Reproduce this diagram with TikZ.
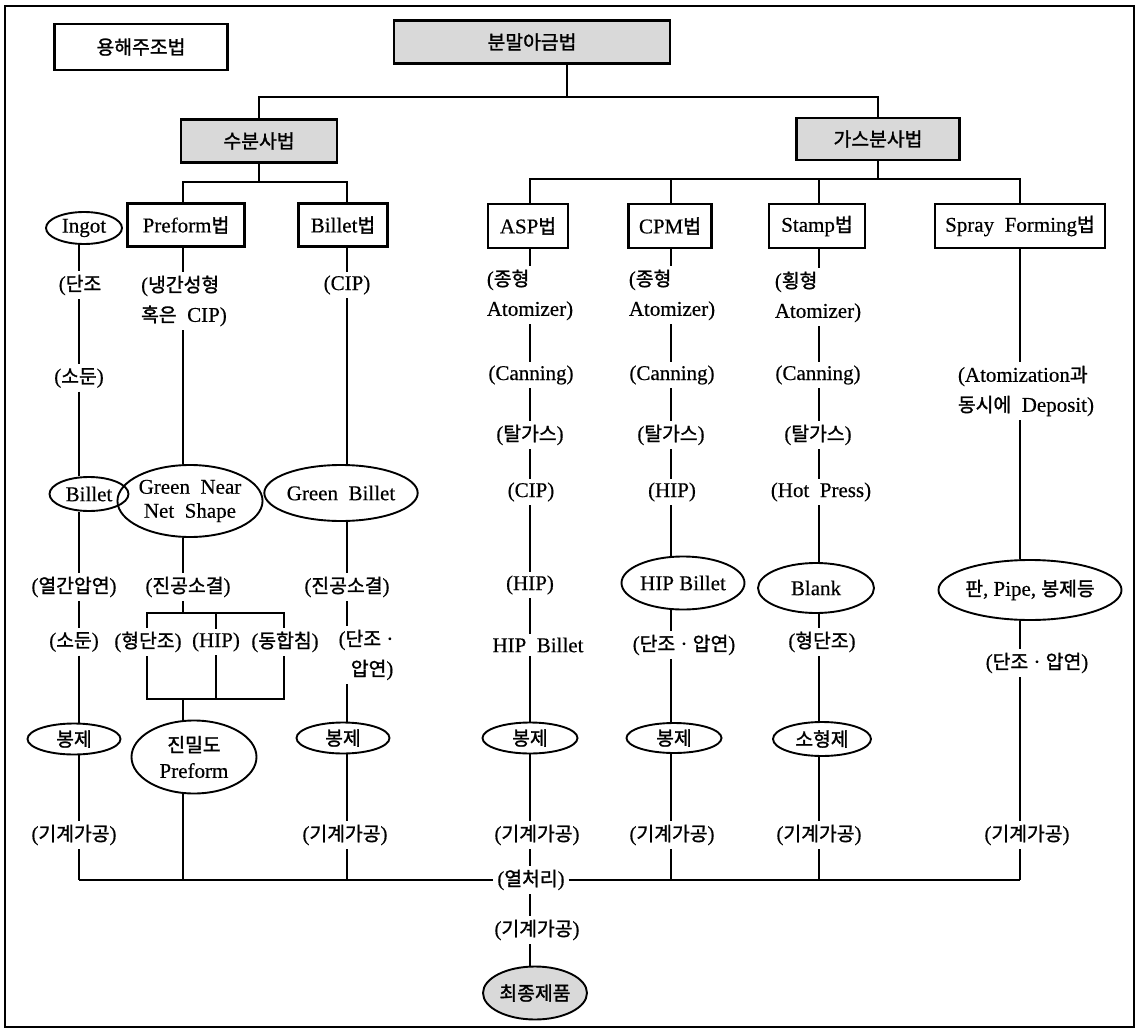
\documentclass[tikz,border=0pt]{standalone}
\usepackage{fontspec}
\setmainfont[FakeBold=0.4]{Liberation Serif}
\newfontfamily\krfont[Scale=0.92,FakeBold=1.4]{Noto Sans CJK KR}
\newcommand{\kor}[1]{{\krfont #1}}
\usetikzlibrary{shapes.geometric}

\begin{document}
\begin{tikzpicture}[x=1pt,y=-1pt,line width=1.8pt,
    font=\fontsize{21}{30}\selectfont,
    box/.style={draw,line width=2.4pt,inner sep=0pt,minimum height=43pt},
    gbox/.style={box,fill=black!15},
    oval/.style={draw,ellipse,line width=1.9pt,inner sep=0pt},
    goval/.style={oval,fill=black!15},
    lbl/.style={inner sep=3pt,align=center}]
\useasboundingbox (0,0) rectangle (1141,1033);
\draw[line width=2.2pt] (5,6) rectangle (1134,1027);
% column lines
\foreach \n/\x in {C1/79,C2/183,C3/347,C4/530,C5/671,C6/819,C7/1020}
    \coordinate (\n) at (\x,0);
\foreach \n/\x in {J1/79,J2/183,J3/347,J5/671,J6/819,J7/1020}
    \coordinate (\n) at (\x,880);

% heads
\node[box,minimum width=173pt,minimum height=46pt] (yong) at (141,47) {\kor{용해주조법}};
\node[gbox,minimum width=276pt] (bun) at (532,42) {\kor{분말아금법}};
\node[gbox,minimum width=156pt] (su) at (259,141) {\kor{수분사법}};
\node[gbox,minimum width=163pt,minimum height=42pt] (gas) at (878,139) {\kor{가스분사법}};
\coordinate (bj) at (567,97);
\coordinate (sj) at (259,182);
\coordinate (gj) at (878,179);
\draw (bj |- bun.south) -- (bj);
\draw (su) |- (bj) -| (gas);

% methods
\node[oval,minimum width=76pt,minimum height=32pt] (ingot) at (84,228) {Ingot};
\node[box,minimum width=117pt] (pre) at (186,225) {Preform\kor{법}};
\node[box,minimum width=89pt] (bil) at (343,225) {Billet\kor{법}};
\node[box,minimum width=80pt,minimum height=44pt] (asp) at (528,226) {ASP\kor{법}};
\node[box,minimum width=83pt,minimum height=44pt] (cpm) at (670,226) {CPM\kor{법}};
\node[box,minimum width=96pt,minimum height=44pt] (stp) at (817,226) {Stamp\kor{법}};
\node[box,minimum width=170pt,minimum height=44pt] (spr) at (1020,226) {Spray~~Forming\kor{법}};
\draw (su) -- (sj);
\draw (C2 |- pre.north) |- (sj) -| (C3 |- bil.north);
\draw (gas) -- (gj);
\draw (C4 |- asp.north) |- (gj) -| (C7 |- spr.north);
\draw (C5 |- gj) -- (C5 |- cpm.north);
\draw (C6 |- gj) -- (C6 |- stp.north);

% Ingot
\node[lbl] (i1) at (80,285) {(\kor{단조}};
\node[lbl] (i2) at (79,378) {(\kor{소둔})};
\node[oval,minimum width=79pt,minimum height=34pt] (billet) at (89,494) {Billet};
\node[lbl] (i3) at (74,587) {(\kor{열간압연})};
\node[lbl] (i4) at (74,642) {(\kor{소둔})};
\node[oval,minimum width=93pt,minimum height=31pt] (bongL) at (74,739) {\kor{봉제}};
\node[lbl] (i5) at (74,835) {(\kor{기계가공})};
\foreach \a/\b in {ingot/i1,i1/i2,i2/billet,billet/i3,i3/i4,i4/bongL,bongL/i5}
    \draw (C1 |- \a.south) -- (C1 |- \b.north);
\draw (C1 |- i5.south) -- (J1);

% Preform
\node[lbl,align=left] (p1) at (184,301) {(\kor{냉간성형}\\\kor{혹은}~~CIP)};
\node[oval,minimum width=125pt,minimum height=72pt,align=center] (gnns) at (190,501)
    {Green~~Near\\[-6pt]Net~~Shape};
\node[lbl] (p2) at (188,587) {(\kor{진공소결})};
\node[lbl] (hy) at (148,642) {(\kor{형단조})};
\node[lbl] (hp) at (216,642) {(HIP)};
\node[lbl] (dh) at (285,642) {(\kor{동합침})};
\node[oval,minimum width=125pt,minimum height=73pt,align=center] (jin) at (194,757)
    {\kor{진밀도}\\[-4pt]Preform};
\coordinate (u1) at (147,613); \coordinate (u2) at (216,613); \coordinate (u3) at (284,613);
\coordinate (w1) at (147,699); \coordinate (w2) at (216,699); \coordinate (w3) at (284,699);
\foreach \a/\b in {pre/p1,p1/gnns,gnns/p2}
    \draw (C2 |- \a.south) -- (C2 |- \b.north);
\draw (C2 |- p2.south) -- (C2 |- u1);
\draw (u1 |- hy.north) -- (u1) -- (u3) -- (u3 |- dh.north);
\draw (u2) -- (u2 |- hp.north);
\draw (w1 |- hy.south) -- (w1) -- (w3) -- (w3 |- dh.south);
\draw (w2 |- hp.south) -- (w2);
\draw (C2 |- w1) -- (C2 |- jin.north);
\draw (C2 |- jin.south) -- (J2);

% Billet
\node[lbl] (b1) at (347,285) {(CIP)};
\node[oval,minimum width=138pt,minimum height=56pt] (gbil) at (341,493) {Green~~Billet};
\node[lbl] (b2) at (347,587) {(\kor{진공소결})};
\node[lbl,align=right] (b3) at (366,655) {(\kor{단조}~·\\\kor{압연})};
\node[oval,minimum width=93pt,minimum height=31pt] (bongB) at (343,738) {\kor{봉제}};
\node[lbl] (b4) at (345,835) {(\kor{기계가공})};
\foreach \a/\b in {bil/b1,b1/gbil,gbil/b2,b2/b3,b3/bongB,bongB/b4}
    \draw (C3 |- \a.south) -- (C3 |- \b.north);
\draw (C3 |- b4.south) -- (J3);

% ASP
\node[lbl,align=left] (a1) at (530,295) {(\kor{종형}\\Atomizer)};
\node[lbl] (a2) at (531,375) {(Canning)};
\node[lbl] (a3) at (530,435) {(\kor{탈가스})};
\node[lbl] (a4) at (531,492) {(CIP)};
\node[lbl] (a5) at (530,585) {(HIP)};
\node[lbl] (a6) at (538,645) {HIP~~Billet};
\node[oval,minimum width=95pt,minimum height=31pt] (bongA) at (530,738) {\kor{봉제}};
\node[lbl] (a7) at (537,835) {(\kor{기계가공})};
\node[lbl] (heat) at (531,880) {(\kor{열처리})};
\node[lbl] (a8) at (537,930) {(\kor{기계가공})};
\node[goval,minimum width=104pt,minimum height=53pt] (fin) at (535,993) {\kor{최종제품}};
\foreach \a/\b in {asp/a1,a1/a2,a2/a3,a3/a4,a4/a5,a5/a6,a6/bongA,bongA/a7,a7/heat,heat/a8,a8/fin}
    \draw (C4 |- \a.south) -- (C4 |- \b.north);
\draw (J1) -- (heat);
\draw (heat) -- (J7);

% CPM
\node[lbl,align=left] (c1) at (672,295) {(\kor{종형}\\Atomizer)};
\node[lbl] (c2) at (672,375) {(Canning)};
\node[lbl] (c3) at (671,435) {(\kor{탈가스})};
\node[lbl] (c4) at (672,492) {(HIP)};
\node[oval,minimum width=123pt,minimum height=53pt] (hipb) at (683,583) {HIP Billet};
\node[lbl] (c5) at (684,645) {(\kor{단조}~·~\kor{압연})};
\node[oval,minimum width=95pt,minimum height=30pt] (bongC) at (674,738) {\kor{봉제}};
\node[lbl] (c6) at (672,835) {(\kor{기계가공})};
\foreach \a/\b in {cpm/c1,c1/c2,c2/c3,c3/c4,c4/hipb,hipb/c5,c5/bongC,bongC/c6}
    \draw (C5 |- \a.south) -- (C5 |- \b.north);
\draw (C5 |- c6.south) -- (J5);

% Stamp
\node[lbl,align=left] (s1) at (818,297) {(\kor{횡형}\\Atomizer)};
\node[lbl] (s2) at (818,375) {(Canning)};
\node[lbl] (s3) at (818,435) {(\kor{탈가스})};
\node[lbl] (s4) at (821,492) {(Hot~~Press)};
\node[oval,minimum width=116pt,minimum height=50pt] (blank) at (816,588) {Blank};
\node[lbl] (s5) at (822,642) {(\kor{형단조})};
\node[oval,minimum width=98pt,minimum height=34pt] (soh) at (822,739) {\kor{소형제}};
\node[lbl] (s6) at (819,835) {(\kor{기계가공})};
\foreach \a/\b in {stp/s1,s1/s2,s2/s3,s3/s4,s4/blank,blank/s5,s5/soh,soh/s6}
    \draw (C6 |- \a.south) -- (C6 |- \b.north);
\draw (C6 |- s6.south) -- (J6);

% Spray Forming
\node[lbl,align=left] (r1) at (1026,391) {(Atomization\kor{과}\\\kor{동시에}~~Deposit)};
\node[oval,minimum width=174pt,minimum height=60pt] (pan) at (1030,590) {\kor{판}, Pipe, \kor{봉제등}};
\node[lbl] (r2) at (1037,663) {(\kor{단조}~·~\kor{압연})};
\node[lbl] (r3) at (1027,835) {(\kor{기계가공})};
\foreach \a/\b in {spr/r1,r1/pan,pan/r2,r2/r3}
    \draw (C7 |- \a.south) -- (C7 |- \b.north);
\draw (C7 |- r3.south) -- (J7);
\end{tikzpicture}
\end{document}
